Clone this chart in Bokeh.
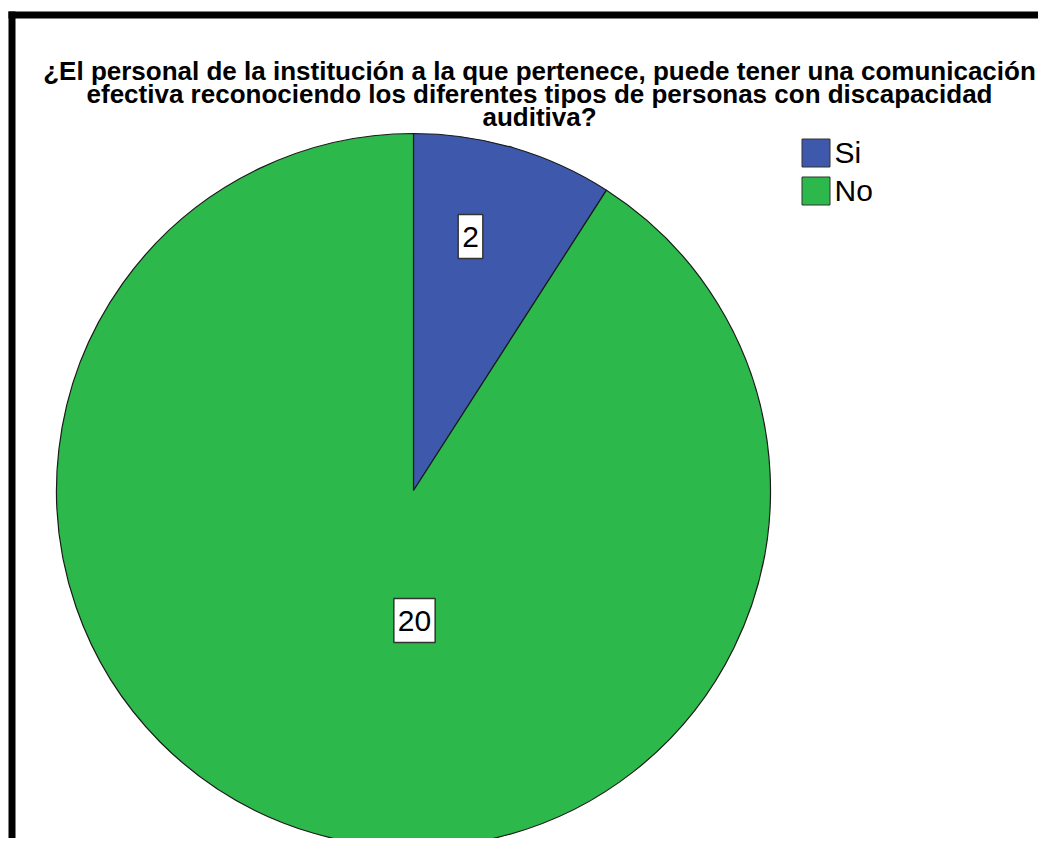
import math
from bokeh.plotting import figure
from bokeh.models import Range1d, Label, ColumnDataSource
from bokeh.core.properties import value
from bokeh.embed import file_html
from bokeh.resources import INLINE

# ---- data ----
categories = ["Si", "No"]
counts = [2, 20]
colors = ["#3E58AC", "#2DB84B"]
title_lines = [
    "¿El personal de la institución a la que pertenece, puede tener una comunicación",
    "efectiva reconociendo los diferentes tipos de personas con discapacidad",
    "auditiva?",
]

# ---- layout (data units == screen px, y measured upward from page bottom 854) ----
W, H = 1038, 838
PAGE_H = 854
def sy(screen_y):
    return PAGE_H - screen_y

CX, CY, R = 413, sy(490), 357
FONT = "Liberation Sans"

p = figure(width=W, height=H, output_backend="svg", toolbar_location=None,
           x_range=Range1d(0, W), y_range=Range1d(PAGE_H - H, PAGE_H),
           x_axis_location=None, y_axis_location=None, min_border=0)
p.grid.visible = False
p.outline_line_color = None
p.background_fill_color = "white"
p.border_fill_color = "white"

# pie wedges (clockwise from 12 o'clock)
total = sum(counts)
starts, ends = [], []
acc = 0
for c in counts:
    starts.append(math.pi / 2 - 2 * math.pi * acc / total)
    acc += c
    ends.append(math.pi / 2 - 2 * math.pi * acc / total)
src = ColumnDataSource(dict(cat=categories, n=counts, color=colors, start=starts, end=ends))
p.wedge(x=CX, y=CY, radius=R, start_angle="start", end_angle="end", direction="clock",
        fill_color="color", line_color="#1a1a1a", line_width=1.2, source=src)

# slice labels (positions are layout)
label_pos = [(470, 236), (414, 620)]
for n, (lx, ly) in zip(counts, label_pos):
    p.add_layout(Label(x=lx, y=sy(ly), text=str(n), text_align="center", text_baseline="middle",
                       text_font=FONT, text_font_size="30px", text_color="black",
                       background_fill_color="white", border_line_color="#333333",
                       border_line_width=1.5, padding=(4, 12)))

# title
for i, line in enumerate(title_lines):
    p.text(x=[539], y=[sy(70 + 23 * i)], text=[line], text_align="center",
           text_baseline="alphabetic", text_font=value(FONT), text_font_style="bold",
           text_font_size="26px", text_color="black")

# legend (manual)
for i, (cat, col) in enumerate(zip(categories, colors)):
    yc = sy(152.5 + 38 * i)
    p.rect(x=[815.5], y=[yc], width=28, height=28, fill_color=col, line_color="#333333", line_width=1)
    p.text(x=[834], y=[yc + 1], text=[cat], text_align="left", text_baseline="middle",
           text_font=value(FONT), text_font_size="30px", text_color="black")

# frame border (top and left)
p.quad(left=[8], right=[W], bottom=[sy(18)], top=[sy(11)], fill_color="black", line_color=None)
p.quad(left=[8], right=[15], bottom=[PAGE_H - H], top=[sy(11)], fill_color="black", line_color=None)

open("out.html", "w").write(file_html(p, INLINE))
